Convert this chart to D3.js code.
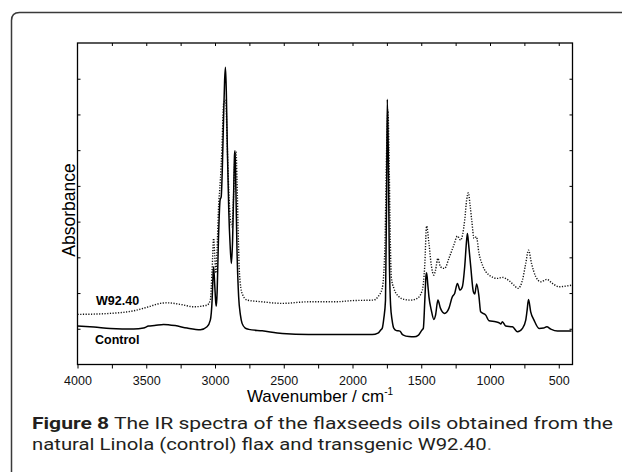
<!DOCTYPE html>
<html>
<head>
<meta charset="utf-8">
<script src="https://cdn.jsdelivr.net/npm/d3@7"></script>
<style>
  body { margin: 0; background: #fff; overflow: hidden; }
  svg { display: block; overflow: hidden; }
</style>
</head>
<body>
<svg id="chart"></svg>
<script>
// wavenumbers (cm-1) and absorbance (arbitrary units)
const controlWn = [4000, 3880, 3762, 3592, 3520, 3483, 3440, 3374, 3290, 3203, 3106, 3058, 3034, 3021, 3014, 3010, 3002, 2994, 2990, 2984,
  2975, 2963, 2955, 2947, 2938, 2930, 2924, 2918, 2910, 2900, 2890, 2881, 2872, 2864, 2858, 2854, 2848, 2840, 2828, 2815,
  2803, 2780, 2755, 2657, 2511, 2320, 2124, 1856, 1815, 1795, 1784, 1772, 1760, 1752, 1747, 1740, 1733, 1723, 1712, 1699,
  1680, 1655, 1640, 1630, 1590, 1553, 1520, 1495, 1485, 1474, 1465, 1461, 1452, 1444, 1427, 1408, 1396, 1379, 1360, 1330,
  1299, 1274, 1257, 1237, 1218, 1201, 1184, 1170, 1164, 1155, 1140, 1121, 1111, 1097, 1080, 1068, 1031, 1007, 959, 930,
  922, 910, 886, 837, 800, 764, 740, 730, 720, 704, 680, 643, 610, 587, 558, 509, 407];
const controlAbs = [1.075, 1.047, 1.011, 0.991, 1.019, 1.075, 1.089, 1.123, 1.089, 1.019, 0.971, 1.055, 1.243, 1.803, 2.503, 2.735, 2.223, 1.719, 1.635, 2.083,
  3.483, 4.603, 4.695, 5.442, 6.842, 7.962, 8.318, 7.682, 6.003, 4.323, 3.343, 2.830, 3.483, 4.882, 5.862, 5.983, 4.882, 3.203, 1.895, 1.383,
  1.151, 1.019, 0.983, 0.943, 0.871, 0.843, 0.843, 0.837, 0.879, 0.963, 1.011, 1.299, 1.803, 4.603, 7.422, 6.003, 3.203, 1.663, 1.243, 1.011,
  0.949, 0.935, 0.851, 0.823, 0.781, 0.775, 0.823, 0.963, 1.011, 1.803, 2.503, 2.567, 2.223, 1.895, 1.523, 1.263, 1.383, 1.803, 1.571, 1.431,
  1.571, 1.895, 1.990, 2.270, 2.083, 2.175, 2.735, 3.483, 3.670, 3.343, 2.735, 2.035, 1.971, 2.251, 1.895, 1.475, 1.383, 1.223, 1.195, 1.159,
  1.131, 1.195, 1.075, 1.055, 0.915, 1.011, 1.243, 1.523, 1.823, 1.475, 1.243, 1.011, 1.019, 1.055, 0.991, 0.935, 0.935];

const w92Wn = [4000, 3880, 3762, 3592, 3483, 3398, 3349, 3252, 3155, 3058, 3034, 3021, 3010, 3002, 2994, 2985, 2975, 2961, 2950, 2937,
  2922, 2912, 2900, 2886, 2876, 2866, 2856, 2847, 2840, 2830, 2822, 2803, 2766, 2657, 2511, 2318, 2124, 2000, 1846, 1815,
  1784, 1765, 1752, 1742, 1735, 1725, 1718, 1699, 1662, 1626, 1577, 1529, 1492, 1475, 1461, 1444, 1427, 1408, 1396, 1379,
  1360, 1330, 1299, 1263, 1237, 1214, 1184, 1170, 1157, 1145, 1133, 1116, 1099, 1080, 1055, 1007, 946, 910, 861, 826,
  797, 764, 740, 720, 698, 667, 630, 587, 546, 498, 449, 400];
const w92Abs = [1.403, 1.411, 1.431, 1.503, 1.615, 1.711, 1.727, 1.683, 1.615, 1.663, 1.803, 2.643, 3.530, 3.063, 2.559, 3.203, 4.323, 5.162, 6.003, 7.310,
  7.402, 6.283, 4.882, 3.987, 3.855, 4.603, 5.722, 5.955, 5.162, 3.483, 2.550, 1.990, 1.803, 1.755, 1.711, 1.755, 1.755, 1.789, 1.803, 1.895,
  2.130, 3.203, 6.003, 7.122, 6.003, 3.483, 2.455, 2.130, 1.895, 1.823, 1.803, 1.851, 2.083, 2.735, 3.875, 3.390, 2.783, 2.503, 2.643, 2.970,
  2.735, 2.690, 2.970, 3.343, 3.595, 3.483, 4.043, 4.603, 4.807, 4.462, 4.043, 3.530, 3.575, 3.110, 2.783, 2.503, 2.410, 2.438, 2.343, 2.223,
  2.130, 2.363, 2.830, 3.203, 2.830, 2.455, 2.315, 2.382, 2.270, 2.175, 2.195, 2.223];

const xMajorTicks = [4000, 3500, 3000, 2500, 2000, 1500, 1000, 500];
const xMinorTicks = [3750, 3250, 2750, 2250, 1750, 1250, 750];
const yTicks = [1, 2, 3, 4, 5, 6, 7, 8];
const seriesLabels = ["W92.40", "Control"];

const width = 622, height = 472;
const plotLeft = 77.5, plotRight = 572.5, plotTop = 43, plotBottom = 364.5;

const svg = d3.select("#chart")
    .attr("width", width)
    .attr("height", height)
    .style("font-family", "'Liberation Sans', Arial, sans-serif");

// outer panel: only the left and top edges fall inside the picture
svg.append("path")
    .attr("d", "M11.5,480 V20.5 Q11.5,12.5 19.5,12.5 H640")
    .attr("fill", "none")
    .attr("stroke", "#3a3a3a")
    .attr("stroke-width", 1.5);

const x = d3.scaleLinear().domain([4000, 400]).range([plotLeft, plotRight]);
const y = d3.scaleLinear().domain([0, 9]).range([plotBottom, plotTop]);

// axes: labelled bottom, ticks inward on the other three sides
const gx = svg.append("g")
    .attr("transform", `translate(0,${plotBottom})`)
    .call(d3.axisBottom(x).tickValues(xMajorTicks).tickFormat(d3.format("d")).tickSize(4).tickPadding(8));
gx.selectAll("text").attr("font-size", 12.5).attr("fill", "#111");

svg.append("g")
    .attr("transform", `translate(0,${plotBottom})`)
    .call(d3.axisBottom(x).tickValues(xMinorTicks).tickFormat("").tickSize(4));

svg.append("g")
    .attr("transform", `translate(0,${plotTop})`)
    .call(d3.axisTop(x).tickValues(xMajorTicks.concat(xMinorTicks).filter(d => d < 4000)).tickFormat("").tickSize(-3));

svg.append("g")
    .attr("transform", `translate(${plotLeft},0)`)
    .call(d3.axisLeft(y).tickValues(yTicks).tickFormat("").tickSize(-3));

svg.append("g")
    .attr("transform", `translate(${plotRight},0)`)
    .call(d3.axisRight(y).tickValues(yTicks).tickFormat("").tickSize(-3));

svg.selectAll(".domain").remove();
svg.selectAll(".tick line").attr("stroke", "#000").attr("stroke-width", 1);
svg.selectAll("g").attr("font-family", null);

svg.append("rect")
    .attr("x", plotLeft).attr("y", plotTop)
    .attr("width", plotRight - plotLeft).attr("height", plotBottom - plotTop)
    .attr("fill", "none")
    .attr("stroke", "#000")
    .attr("stroke-width", 1.3);

// spectra
const line = d3.line()
    .x(d => x(d[0]))
    .y(d => y(d[1]))
    .curve(d3.curveMonotoneX);

const control = controlWn.map((w, i) => [w, controlAbs[i]]);
const w92 = w92Wn.map((w, i) => [w, w92Abs[i]]);

svg.append("path")
    .datum(w92)
    .attr("d", line)
    .attr("fill", "none")
    .attr("stroke", "#111")
    .attr("stroke-width", 1.4)
    .attr("stroke-dasharray", "1.2,1.5");

svg.append("path")
    .datum(control)
    .attr("d", line)
    .attr("fill", "none")
    .attr("stroke", "#000")
    .attr("stroke-width", 1.5);

// series labels
svg.append("text")
    .attr("x", 96).attr("y", 305)
    .attr("font-size", 12.5).attr("font-weight", "bold")
    .text(seriesLabels[0]);
svg.append("text")
    .attr("x", 95).attr("y", 343.5)
    .attr("font-size", 12.5).attr("font-weight", "bold")
    .text(seriesLabels[1]);

// axis titles
svg.append("text")
    .attr("transform", "translate(75,210) rotate(-90)")
    .attr("text-anchor", "middle")
    .attr("font-size", 17.5)
    .text("Absorbance");

const xt = svg.append("text")
    .attr("x", 320).attr("y", 402)
    .attr("text-anchor", "middle")
    .attr("font-size", 17);
xt.append("tspan").text("Wavenumber / cm");
xt.append("tspan").attr("dy", -7).attr("font-size", 10).text("-1");

// caption, stretched to the widths of the original lines
const cap = svg.append("g")
    .attr("font-family", "Roboto, 'Liberation Sans', sans-serif")
    .attr("fill", "#231f20");
const l1 = cap.append("text").attr("x", 32).attr("y", 429).attr("font-size", 17)
    .attr("textLength", 581).attr("lengthAdjust", "spacingAndGlyphs");
l1.append("tspan").attr("font-weight", "bold").text("Figure 8");
l1.append("tspan").text(" The IR spectra of the flaxseeds oils obtained from the");
const l2 = cap.append("text").attr("x", 32).attr("y", 450).attr("font-size", 17)
    .attr("textLength", 460).attr("lengthAdjust", "spacingAndGlyphs");
l2.append("tspan").text("natural Linola (control) flax and transgenic W92.40");
l2.append("tspan").attr("fill", "#777").text(".");
</script>
</body>
</html>
